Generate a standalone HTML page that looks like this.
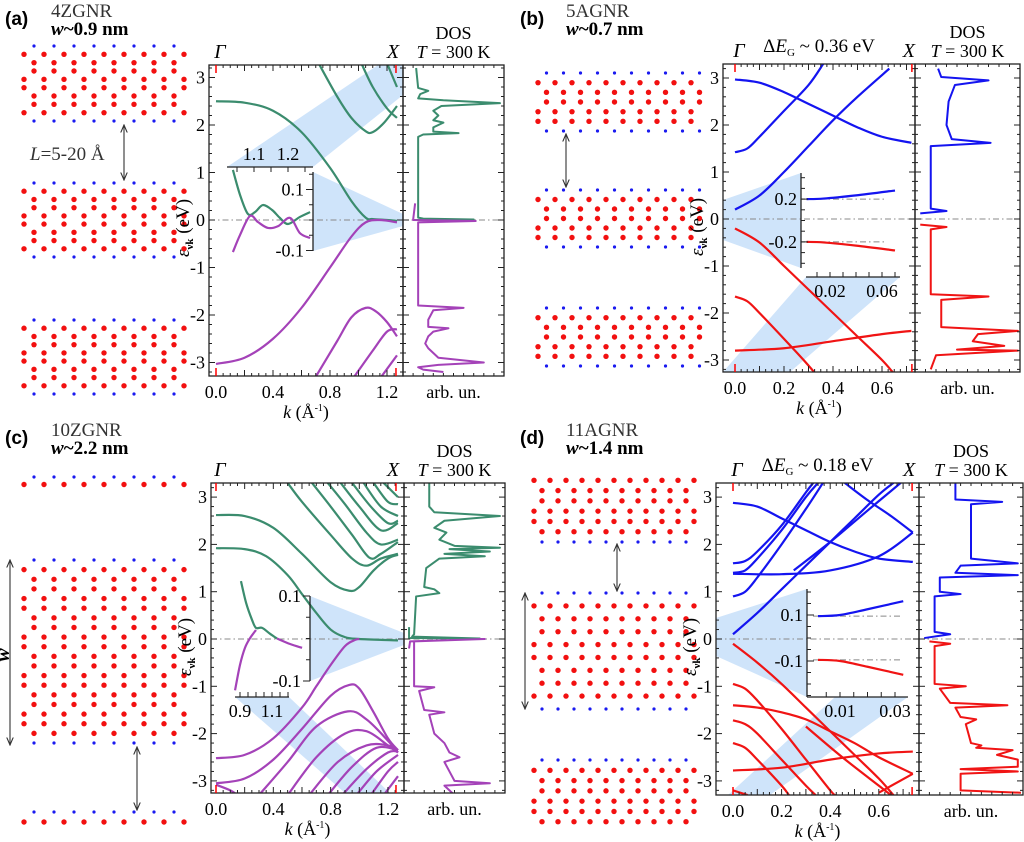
<!DOCTYPE html>
<html><head><meta charset="utf-8">
<style>
html,body{margin:0;padding:0;background:#fff;}
svg{display:block;font-family:"Liberation Serif",serif;}
.sans{font-family:"Liberation Sans",sans-serif;}
</style></head>
<body>
<svg id="fig" width="1024" height="842" viewBox="0 0 1024 842" xmlns="http://www.w3.org/2000/svg">
<defs>
<marker id="ah" markerWidth="8" markerHeight="8" refX="7" refY="4" orient="auto-start-reverse"><path d="M0,1 L7,4 L0,7" fill="none" stroke="#333" stroke-width="1"/></marker>
</defs>
</svg>
<script>
// ===== Panel (a) 4ZGNR data =====
const aCond = [
 [[0,2.5],[0.2,2.47],[0.4,2.3],[0.6,1.85],[0.8,1.1],[0.95,0.4],[1.05,0.05],[1.1,0.02],[1.2,0.0],[1.27,-0.02]],
 [[0.72,3.3],[0.85,2.6],[0.95,2.15],[1.05,1.87],[1.1,1.85],[1.18,2.05],[1.27,2.4]],
 [[1.02,3.3],[1.1,2.8],[1.2,2.35],[1.27,2.15]],
 [[1.2,3.3],[1.27,2.8]]
];
const aVal = [
 [[0,-3.03],[0.2,-2.9],[0.4,-2.5],[0.6,-1.85],[0.8,-1.0],[0.95,-0.35],[1.05,-0.05],[1.15,0.0],[1.27,-0.05]],
 [[0.7,-3.3],[0.85,-2.55],[0.95,-2.05],[1.05,-1.85],[1.12,-1.92],[1.2,-2.15],[1.27,-2.45]],
 [[0.97,-3.3],[1.1,-2.75],[1.2,-2.35],[1.27,-2.3]],
 [[1.16,-3.3],[1.27,-2.85]]
];
const aDosC = [[0.0,0.1],[0.01,0.7],[0.03,0.2],[0.05,0.15],[1.75,0.15],[1.8,0.2],[1.83,0.55],[1.86,0.3],[1.95,0.3],[2.05,0.4],[2.1,0.3],[2.2,0.35],[2.3,0.3],[2.4,0.38],[2.46,0.96],[2.52,0.4],[2.56,0.15],[2.65,0.17],[2.72,0.25],[2.78,0.15],[3.2,0.13]];
const aDosV = [[0.35,0.12],[0.0,0.1],[-0.02,0.72],[-0.05,0.15],[-1.8,0.15],[-1.85,0.6],[-1.9,0.3],[-2.1,0.25],[-2.25,0.25],[-2.28,0.45],[-2.35,0.3],[-2.45,0.25],[-2.6,0.22],[-2.7,0.25],[-2.9,0.35],[-3.0,0.8],[-3.05,0.35],[-3.1,0.15],[-3.15,0.2],[-3.2,0.4]];
const aInsetC = [[[1.038,0.164],[1.059,0.082],[1.082,0.02],[1.103,0.026],[1.126,0.049],[1.153,0.033],[1.176,0.007],[1.2,-0.013],[1.235,0.01],[1.265,0.026]]];
const aInsetV = [[[1.038,-0.105],[1.059,-0.049],[1.088,0.013],[1.112,-0.007],[1.141,-0.026],[1.171,-0.02],[1.206,0.007],[1.235,-0.043],[1.265,-0.059]]];
const aKTicks = [0.0,0.4,0.8,1.2];
const aInsetKTicks = [1.1,1.2];
const aInsetETicks = [0.1,-0.1];

// ===== Panel (b) 5AGNR data =====
const bCond = [
 [[0,0.2],[0.1,0.5],[0.2,1.0],[0.3,1.55],[0.4,2.1],[0.5,2.6],[0.63,3.2]],
 [[0,1.42],[0.05,1.5],[0.1,1.75],[0.2,2.3],[0.3,2.85],[0.36,3.3]],
 [[0,2.97],[0.1,2.9],[0.2,2.7],[0.3,2.45],[0.4,2.2],[0.5,1.95],[0.6,1.75],[0.72,1.62]]
];
const bVal = [
 [[0,-0.2],[0.1,-0.5],[0.2,-1.0],[0.3,-1.5],[0.4,-2.0],[0.5,-2.5],[0.6,-3.0],[0.65,-3.3]],
 [[0,-1.65],[0.05,-1.75],[0.1,-2.0],[0.2,-2.55],[0.28,-3.0],[0.33,-3.3]],
 [[0,-2.8],[0.2,-2.75],[0.4,-2.6],[0.6,-2.45],[0.72,-2.38]]
];
const bDosC = [[0.12,0.05],[0.17,0.3],[0.22,0.15],[1.55,0.15],[1.62,0.72],[1.7,0.35],[2.0,0.3],[2.5,0.32],[2.85,0.38],[2.95,0.7],[3.02,0.25],[3.2,0.22]];
const bDosV = [[-0.12,0.05],[-0.17,0.3],[-0.22,0.15],[-1.6,0.15],[-1.65,0.7],[-1.72,0.25],[-2.3,0.25],[-2.38,0.98],[-2.45,0.6],[-2.6,0.55],[-2.7,0.85],[-2.78,0.4],[-2.8,0.98],[-2.9,0.2],[-3.2,0.15]];
const bInsetC = [[[0.002,0.2],[0.015,0.205],[0.04,0.235],[0.07,0.28]]];
const bInsetV = [[[0.002,-0.2],[0.015,-0.205],[0.04,-0.235],[0.07,-0.28]]];
const bKTicks = [0.0,0.2,0.4,0.6];
const bInsetKTicks = [0.02,0.06];
const bInsetETicks = [0.2,-0.2];

// ===== Panel (c) 10ZGNR data =====
const cCond = [
 [[0,1.92],[0.2,1.9],[0.35,1.75],[0.5,1.35],[0.6,0.95],[0.7,0.55],[0.8,0.2],[0.9,0.04],[1.0,0.0],[1.27,-0.03]],
 [[0,2.62],[0.2,2.6],[0.4,2.35],[0.6,1.8],[0.8,1.2],[0.93,1.02],[1.0,1.1],[1.1,1.45],[1.2,1.7],[1.27,1.78]],
 [[0.5,3.3],[0.6,2.9],[0.8,2.2],[0.95,1.7],[1.05,1.55],[1.15,1.7],[1.27,1.8]],
 [[0.67,3.3],[0.8,2.8],[0.95,2.2],[1.07,1.72],[1.15,1.8],[1.27,2.05]],
 [[0.78,3.3],[0.9,2.85],[1.05,2.25],[1.15,2.0],[1.27,2.1]],
 [[0.87,3.3],[1.0,2.8],[1.15,2.3],[1.27,2.45]],
 [[0.95,3.3],[1.08,2.8],[1.2,2.45],[1.27,2.5]],
 [[1.03,3.3],[1.15,2.8],[1.27,2.6]],
 [[1.1,3.3],[1.2,2.9],[1.27,2.85]],
 [[1.17,3.3],[1.27,3.0]]
];
const cVal = [
 [[0,-2.52],[0.2,-2.45],[0.4,-2.1],[0.6,-1.45],[0.7,-1.0],[0.8,-0.55],[0.9,-0.15],[0.97,-0.02],[1.0,0.0]],
 [[0,-3.05],[0.2,-2.95],[0.4,-2.55],[0.6,-1.9],[0.8,-1.2],[0.93,-0.97],[1.0,-1.05],[1.1,-1.55],[1.2,-2.1],[1.27,-2.35]],
 [[0.3,-3.3],[0.5,-2.6],[0.7,-1.85],[0.92,-1.53],[1.05,-1.7],[1.2,-2.15],[1.27,-2.4]],
 [[0.5,-3.3],[0.7,-2.5],[0.9,-2.0],[1.05,-1.95],[1.2,-2.25],[1.27,-2.4]],
 [[0.65,-3.3],[0.85,-2.6],[1.05,-2.25],[1.2,-2.25],[1.27,-2.35]],
 [[0.78,-3.3],[0.95,-2.7],[1.12,-2.3],[1.27,-2.35]],
 [[0.88,-3.3],[1.05,-2.75],[1.2,-2.4],[1.27,-2.38]],
 [[0.98,-3.3],[1.12,-2.8],[1.27,-2.45]],
 [[1.08,-3.3],[1.2,-2.8],[1.27,-2.6]],
 [[1.17,-3.3],[1.27,-2.9]],
 [[0,-3.08],[0.1,-3.2],[0.15,-3.3]]
];
const cDosC = [[0.25,0.05],[0.02,0.05],[0.01,0.75],[0.05,0.08],[0.1,0.1],[0.9,0.12],[0.97,0.35],[1.05,0.3],[1.1,0.2],[1.5,0.22],[1.7,0.35],[1.75,0.8],[1.8,0.4],[1.85,0.85],[1.9,0.45],[1.93,0.95],[1.97,0.5],[2.1,0.35],[2.25,0.42],[2.35,0.3],[2.5,0.4],[2.6,0.95],[2.68,0.3],[2.8,0.25],[3.0,0.25],[3.3,0.25]];
const cDosV = [[-0.2,0.05],[-0.05,0.06],[0.0,0.8],[-0.05,0.1],[-1.0,0.1],[-1.02,0.3],[-1.1,0.15],[-1.5,0.2],[-1.55,0.4],[-1.6,0.25],[-2.0,0.3],[-2.2,0.4],[-2.4,0.45],[-2.5,0.55],[-2.6,0.4],[-2.8,0.45],[-3.0,0.5],[-3.05,0.85],[-3.1,0.4],[-3.3,0.5]];
const cInsetC = [[[0.906,0.135],[0.938,0.084],[0.975,0.044],[1.0,0.025],[1.038,0.025],[1.088,0.011],[1.131,0.0]]];
const cInsetV = [[[0.869,-0.122],[0.9,-0.062],[0.931,-0.022],[0.963,0.001],[1.0,0.02]],[[1.131,0.0],[1.213,-0.013],[1.288,-0.022]]];
const cKTicks = [0.0,0.4,0.8,1.2];
const cInsetKTicks = [0.9,1.1];
const cInsetETicks = [0.1,-0.1];

// ===== Panel (d) 11AGNR data =====
const dCond = [
 [[0,0.1],[0.1,0.55],[0.2,1.05],[0.3,1.55],[0.4,2.05],[0.5,2.55],[0.6,3.05],[0.66,3.3]],
 [[0,0.9],[0.05,1.0],[0.1,1.3],[0.2,2.0],[0.3,2.75],[0.37,3.3]],
 [[0,1.6],[0.05,1.65],[0.1,1.85],[0.2,2.4],[0.3,3.1],[0.33,3.3]],
 [[0,1.4],[0.05,1.45],[0.1,1.7],[0.2,2.3],[0.3,3.0],[0.35,3.3]],
 [[0,1.38],[0.2,1.37],[0.4,1.45],[0.6,1.75],[0.74,2.25]],
 [[0,2.88],[0.1,2.8],[0.2,2.55],[0.3,2.3],[0.4,2.05],[0.5,1.85],[0.6,1.7],[0.74,1.63]],
 [[0.46,3.3],[0.55,2.95],[0.65,2.6],[0.74,2.25]],
 [[0.25,1.45],[0.4,2.05],[0.55,2.7],[0.69,3.3]]
];
const dVal = [
 [[0,-0.1],[0.1,-0.5],[0.2,-0.95],[0.3,-1.45],[0.4,-1.95],[0.5,-2.45],[0.6,-2.95],[0.66,-3.3]],
 [[0,-0.95],[0.05,-1.05],[0.1,-1.3],[0.2,-1.9],[0.3,-2.55],[0.4,-3.2],[0.42,-3.3]],
 [[0,-1.4],[0.1,-1.45],[0.2,-1.55],[0.3,-1.7],[0.4,-1.95],[0.5,-2.2],[0.6,-2.5],[0.74,-2.85]],
 [[0,-1.72],[0.05,-1.8],[0.1,-2.0],[0.2,-2.55],[0.3,-3.1],[0.34,-3.3]],
 [[0,-2.2],[0.05,-2.3],[0.1,-2.55],[0.2,-3.1],[0.23,-3.3]],
 [[0,-2.78],[0.2,-2.72],[0.4,-2.55],[0.6,-2.42],[0.74,-2.38]],
 [[0.3,-1.85],[0.45,-2.5],[0.6,-3.1],[0.65,-3.3]],
 [[0.6,-3.25],[0.74,-2.85]],
 [[0,-3.2],[0.06,-3.3]]
];
const dDosC = [[0.02,0.05],[0.1,0.3],[0.15,0.15],[0.9,0.15],[0.95,0.4],[1.0,0.2],[1.3,0.2],[1.35,0.95],[1.4,0.35],[1.55,0.4],[1.6,0.95],[1.7,0.5],[2.0,0.5],[2.2,0.5],[2.6,0.5],[2.85,0.5],[2.9,0.8],[2.95,0.35],[3.3,0.35]];
const dDosV = [[-0.05,0.1],[-0.1,0.3],[-0.15,0.15],[-0.95,0.15],[-1.0,0.45],[-1.05,0.2],[-1.35,0.3],[-1.4,0.85],[-1.45,0.35],[-1.65,0.4],[-1.7,0.55],[-1.8,0.45],[-2.2,0.5],[-2.25,0.6],[-2.3,0.55],[-2.35,0.9],[-2.45,0.75],[-2.55,0.95],[-2.7,0.95],[-2.75,0.4],[-2.8,0.95],[-2.85,0.4],[-3.2,0.4],[-3.25,0.98]];
const dInsetC = [[[0.002,0.095],[0.01,0.1],[0.02,0.125],[0.033,0.16]]];
const dInsetV = [[[0.002,-0.095],[0.01,-0.1],[0.02,-0.125],[0.033,-0.16]]];
const dKTicks = [0.0,0.2,0.4,0.6];
const dInsetKTicks = [0.01,0.03];
const dInsetETicks = [0.1,-0.1];

const yTicks = [-3,-2,-1,0,1,2,3];

const NS='http://www.w3.org/2000/svg';
const svg=document.getElementById('fig');
function mk(tag, attrs, parent){const e=document.createElementNS(NS,tag);for(const k in attrs)e.setAttribute(k,attrs[k]);(parent||svg).appendChild(e);return e;}
function txt(x,y,s,size,extra,parent){const t=mk('text',Object.assign({x:x,y:y,'font-size':size},extra||{}),parent);t.textContent=s;return t;}
function smooth(pts){
  if(pts.length<3) return 'M'+pts.map(p=>p[0]+','+p[1]).join(' L');
  let d='M'+pts[0][0]+','+pts[0][1];
  for(let i=0;i<pts.length-1;i++){
    const p0=pts[Math.max(0,i-1)],p1=pts[i],p2=pts[i+1],p3=pts[Math.min(pts.length-1,i+2)];
    const c1=[p1[0]+(p2[0]-p0[0])/6,p1[1]+(p2[1]-p0[1])/6];
    const c2=[p2[0]-(p3[0]-p1[0])/6,p2[1]-(p3[1]-p1[1])/6];
    d+=' C'+c1[0]+','+c1[1]+' '+c2[0]+','+c2[1]+' '+p2[0]+','+p2[1];
  }
  return d;
}

const GREEN='#3b8c6e', PURPLE='#a442b8', BLUE='#1414f0', RED='#f01414', SHADE='#cfe4fa';

function drawPanel(P){
  const g=mk('g',{});
  
  
  const sx=k=>P.x0+k*P.ks, sy=E=>P.y0-E*P.es;
  const dx=d=>P.r+d*(P.dosR-P.r);
  P.shade.forEach(pts=>{const s=mk('polygon',{points:pts,fill:SHADE},g);
    
    });
  const cp=mk('clipPath',{id:'clip'+P.id},g);
  mk('rect',{x:P.l,y:P.t,width:P.r-P.l,height:P.b-P.t},cp);
  const cpd=mk('clipPath',{id:'clipd'+P.id},g);
  mk('rect',{x:P.r,y:P.t,width:P.dosR-P.r,height:P.b-P.t},cpd);
  const zl=mk('line',{x1:P.l,x2:P.dosR,y1:sy(0),y2:sy(0),stroke:'#888','stroke-width':1,'stroke-dasharray':'6 3 1.5 3'},g);
  
  
  const bg=mk('g',{'clip-path':'url(#clip'+P.id+')'},g);
  [[P.cond,P.cc],[P.val,P.vc]].forEach(([set,col],si)=>{
    set.forEach((b,i)=>{const p=mk('path',{d:smooth(b.map(q=>[sx(q[0]),sy(q[1])])),fill:'none',stroke:col,'stroke-width':2.2,'stroke-linejoin':'round'},bg);
      
      });
  });
  const dg=mk('g',{'clip-path':'url(#clipd'+P.id+')'},g);
  [[P.dosC,P.cc,'dos-conduction'],[P.dosV,P.vc,'dos-valence']].forEach(([arr,col,nm])=>{
    const p=mk('polyline',{points:arr.map(q=>dx(q[1])+','+sy(q[0])).join(' '),fill:'none',stroke:col,'stroke-width':2,'stroke-linejoin':'round'},dg);
    
    
  });
  const fr=mk('rect',{x:P.l,y:P.t,width:P.r-P.l,height:P.b-P.t,fill:'none',stroke:'#222','stroke-width':1.3},g);
  
  
  const fd=mk('rect',{x:P.r,y:P.t,width:P.dosR-P.r,height:P.b-P.t,fill:'none',stroke:'#222','stroke-width':1.3},g);
  
  
  for(let E=-3.2;E<=3.21;E+=0.2){const y=sy(E);const maj=Math.abs(E-Math.round(E))<0.01;const L=maj?6:3;
    [[P.l,1],[P.r,-1],[P.r,1],[P.dosR,-1]].forEach(([x,d])=>mk('line',{x1:x,x2:x+d*L,y1:y,y2:y,stroke:'#222','stroke-width':1},g));}
  yTicks.forEach(v=>{const t=txt(P.l-4,sy(v)+6,String(v),18,{'text-anchor':'end'},g);
    
    });
  const step=P.kTicks[1]-P.kTicks[0];
  for(let k=0;k<=P.kX+1e-6;k+=step/8){const x=sx(k);const maj=Math.abs(k/(step/2)-Math.round(k/(step/2)))<0.01;const L=maj?6:3;
    mk('line',{x1:x,x2:x,y1:P.b,y2:P.b-L,stroke:'#222','stroke-width':1},g);
    mk('line',{x1:x,x2:x,y1:P.t,y2:P.t+L,stroke:'#222','stroke-width':1},g);}
  for(let d=0.1;d<1;d+=0.1){const x=dx(d);mk('line',{x1:x,x2:x,y1:P.b,y2:P.b-3,stroke:'#222'},g);mk('line',{x1:x,x2:x,y1:P.t,y2:P.t+3,stroke:'#222'},g);}
  P.kTicks.forEach(v=>{const t=txt(sx(v),P.b+22,v.toFixed(1),18,{'text-anchor':'middle'},g);
    
    });
  [0,P.kX].forEach(k=>{mk('line',{x1:sx(k),x2:sx(k),y1:P.t,y2:P.t+8,stroke:'#f00','stroke-width':1.5},g);
    mk('line',{x1:sx(k),x2:sx(k),y1:P.b,y2:P.b-8,stroke:'#f00','stroke-width':1.5},g);});
  const gl=txt(sx(0)+4,P.t-7,'Γ',20,{'font-style':'italic','text-anchor':'middle'},g);
  
  
  const xl=txt(sx(P.kX)-3,P.t-7,'X',20,{'font-style':'italic','text-anchor':'middle'},g);
  
  
  const dm=(P.r+P.dosR)/2;
  const dl=txt(dm,P.t-26,'DOS',18,{'text-anchor':'middle'},g);
  
  
  const tl=txt(dm,P.t-7,'',18,{'text-anchor':'middle'},g);
  tl.innerHTML='<tspan font-style="italic">T</tspan> = 300 K';
  
  
  const al=txt(dm,P.b+22,'arb. un.',18,{'text-anchor':'middle'},g);
  
  
  const kl=txt((P.l+P.r)/2,P.b+42,'',18,{'text-anchor':'middle'},g);
  kl.innerHTML='<tspan font-style="italic">k</tspan> (Å<tspan font-size="10" dy="-7">-1</tspan><tspan dy="7">)</tspan>';
  
  
  const yl=txt(0,0,'',19,{'text-anchor':'middle',transform:'translate('+(P.l-20)+','+(sy(0)+8)+') rotate(-90)'},g);
  yl.innerHTML='<tspan font-style="italic">ε</tspan><tspan font-size="11" dy="4" font-weight="bold">νk</tspan><tspan dy="-4"> (eV)</tspan>';
  
  
  if(P.gap){const gt=txt((P.l+P.r)/2,P.t-12,'',19,{'text-anchor':'middle'},g);
    gt.innerHTML='Δ<tspan font-style="italic">E</tspan><tspan font-size="11" dy="4">G</tspan><tspan dy="-4"> ~ '+P.gap+' eV</tspan>';
    
    }
  // inset
  const I=P.inset;
  const ix=k=>I.x0+(k-I.k0)*I.ks, iy=E=>I.y0-E*I.es;
  const ig=mk('g',{},g);
  
  
  I.dash.forEach(E=>mk('line',{x1:I.dashX[0],x2:I.dashX[1],y1:iy(E),y2:iy(E),stroke:'#888','stroke-dasharray':'6 3 1.5 3'},ig));
  [[I.c,P.cc],[I.v,P.vc]].forEach(([set,col])=>set.forEach(b=>{const p=mk('path',{d:smooth(b.map(q=>[ix(q[0]),iy(q[1])])),fill:'none',stroke:col,'stroke-width':2.2},ig);
    
    }));
  const ax=I.axX, ay=I.axY;
  mk('line',{x1:ax[1],x2:ax[2],y1:ax[0],y2:ax[0],stroke:'#222','stroke-width':1.3},ig);
  mk('line',{x1:ay[0],x2:ay[0],y1:ay[1],y2:ay[2],stroke:'#222','stroke-width':1.3},ig);
  const kd=ax[3];
  for(let k=I.kTickStart;ix(k)<=ax[2]+0.5;k+=I.kMinor){const x=ix(k);if(x<ax[1]-0.5)continue;mk('line',{x1:x,x2:x,y1:ax[0],y2:ax[0]-kd*5,stroke:'#222'},ig);}
  I.kt.forEach(v=>txt(ix(v),ax[0]+(kd>0?20:-7),String(v),18,{'text-anchor':'middle'},ig));
  const td=ay[3]; // tick direction +1 right, -1 left
  for(let E=I.eMinor*Math.ceil((I.y0-ay[2])/I.es/I.eMinor);iy(E)>=ay[1]-0.5;E+=I.eMinor){mk('line',{x1:ay[0],x2:ay[0]+td*4,y1:iy(E),y2:iy(E),stroke:'#222'},ig);}
  I.et.forEach(v=>{mk('line',{x1:ay[0],x2:ay[0]+td*7,y1:iy(v),y2:iy(v),stroke:'#222'},ig);
    txt(ay[0]-(td<0?9:4),iy(v)+6,String(v),18,{'text-anchor':'end'},ig);});
}

function ribbon(x0,x1,yTop,yBot,nRed,sp,topBlue,botBlue,name){
  const g=mk('g',{});
  
  
  if(topBlue) for(let x=x0+sp/2;x<=x1;x+=sp) mk('circle',{cx:x,cy:yTop,r:1.6,fill:topBlue},g);
  if(botBlue) for(let x=x0+sp/2;x<=x1;x+=sp) mk('circle',{cx:x,cy:yBot,r:1.6,fill:botBlue},g);
  for(let i=0;i<nRed;i++){const y=yTop+(i+1)*(yBot-yTop)/(nRed+1);const off=(Math.floor((i+1)/2)%2)*sp/2;
    for(let x=x0+off;x<=x1;x+=sp) mk('circle',{cx:x,cy:y,r:2.7,fill:'#f21010'},g);}
}
function arrow(x1,y1,x2,y2,name){const a=mk('line',{x1:x1,y1:y1,x2:x2,y2:y2,stroke:'#333','stroke-width':1.1,'marker-start':'url(#ah)','marker-end':'url(#ah)'});
  
  }

ribbon(24,184,46,121,8,20,'#1a1af0','#1a1af0','ribbon-top');
ribbon(24,184,183,257,8,20,'#1a1af0','#1a1af0','ribbon-middle');
ribbon(24,184,320,394,8,20,'#1a1af0','#1a1af0','ribbon-bottom');
arrow(124,125,124,180,'separation-arrow');
ribbon(538,700,73,131,5,17,'#1a1af0','#1a1af0','ribbon-top');
ribbon(538,700,190,247,5,17,'#1a1af0','#1a1af0','ribbon-middle');
ribbon(538,700,308,366,5,17,'#1a1af0','#1a1af0','ribbon-bottom');
arrow(566,134,566,187,'separation-arrow');
ribbon(24,184,477,492,1,20,'#1a1af0',null,'ribbon-top');
ribbon(24,184,560,743,18,20,'#1a1af0','#1a1af0','ribbon-middle');
ribbon(24,184,812,832,1,20,'#1a1af0',null,'ribbon-bottom');
arrow(10,560,10,745,'width-arrow');
arrow(137,747,137,810,'separation-arrow');
ribbon(534,700,470,542,6,16,null,'#1a1af0','ribbon-top');
ribbon(534,700,593,709,8,16,'#1a1af0','#1a1af0','ribbon-middle');
ribbon(534,700,760,832,6,16,'#1a1af0',null,'ribbon-bottom');
arrow(525,593,525,709,'width-arrow');
arrow(617,544,617,591,'separation-arrow');

drawPanel({id:'a',x0:216,ks:142.5,y0:220,es:47.5,l:209,r:403,t:65,b:376,dosR:504,kX:1.263,kTicks:aKTicks,
  cond:aCond,val:aVal,cc:GREEN,vc:PURPLE,dosC:aDosC,dosV:aDosV,
  shade:['227,167 378,65 403,65 403,95 313,167','313,172 403,214 403,226 313,251'],
  inset:{x0:220,k0:1.0,ks:340,y0:220,es:305,dash:[],dashX:[0,0],c:aInsetC,v:aInsetV,
    axX:[167,227,313,-1],axY:[313,172,251,-1],kt:aInsetKTicks,et:aInsetETicks,kTickStart:1.05,kMinor:0.05,eMinor:0.05}});
drawPanel({id:'b',x0:735,ks:245,y0:219,es:47,l:723,r:915,t:64,b:372,dosR:1020,kX:0.722,kTicks:bKTicks,gap:'0.36',
  cond:bCond,val:bVal,cc:BLUE,vc:RED,dosC:bDosC,dosV:bDosV,
  shade:['723,200 801,173 801,268 723,240','806,277 900,277 790,372 723,372'],
  inset:{x0:804,k0:0,ks:1300,y0:220.5,es:107,dash:[0.2,-0.2],dashX:[806,886],c:bInsetC,v:bInsetV,
    axX:[277,806,900,1],axY:[801,173,268,1],kt:bInsetKTicks,et:bInsetETicks,kTickStart:0.01,kMinor:0.01,eMinor:0.1}});
drawPanel({id:'c',x0:216,ks:143.3,y0:639,es:47.3,l:211,r:404,t:483,b:793,dosR:505,kX:1.256,kTicks:cKTicks,
  cond:cCond,val:cVal,cc:GREEN,vc:PURPLE,dosC:cDosC,dosV:cDosV,
  shade:['310,596 404,633 404,645 310,681','235,697 289,697 390,793 345,793'],
  inset:{x0:240,k0:0.9,ks:160,y0:638.5,es:425,dash:[],dashX:[0,0],c:cInsetC,v:cInsetV,
    axX:[697,235,289,1],axY:[310,596,681,-1],kt:cInsetKTicks,et:cInsetETicks,kTickStart:0.9,kMinor:0.05,eMinor:0.05}});
drawPanel({id:'d',x0:733,ks:243,y0:639,es:47.3,l:716,r:919,t:483,b:795,dosR:1023,kX:0.737,kTicks:dKTicks,gap:'0.18',
  cond:dCond,val:dVal,cc:BLUE,vc:RED,dosC:dDosC,dosV:dDosV,
  shade:['716,618 807,589 807,697 716,656','835,697 908,697 770,795 728,795'],
  inset:{x0:812.5,k0:0,ks:2750,y0:638,es:230,dash:[0.095,-0.095],dashX:[813,900],c:dInsetC,v:dInsetV,
    axX:[697,807,908,1],axY:[807,589,697,1],kt:dInsetKTicks,et:dInsetETicks,kTickStart:0.005,kMinor:0.005,eMinor:0.05}});

function title(x,y,letter,name,w){
  const a=txt(x,y,letter,19,{'font-weight':'bold','class':'sans'});
  
  
  const n=txt(x+46,y-8,name,19,{fill:'#333'});
  
  
  const ww=txt(x+46,y+10,'',19,{'font-weight':'bold'});
  ww.innerHTML='<tspan font-style="italic">w</tspan>~'+w+' nm';
  
  
}
title(5,25,'(a)','4ZGNR','0.9');
title(520,25,'(b)','5AGNR','0.7');
title(5,444,'(c)','10ZGNR','2.2');
title(520,444,'(d)','11AGNR','1.4');
const lt=txt(30,160,'',19,{fill:'#333'});
lt.innerHTML='<tspan font-style="italic">L</tspan>=5-20 Å';


const wt=txt(0,0,'w',20,{'font-weight':'bold','font-style':'italic','transform':'translate(9,655) rotate(-90)','text-anchor':'middle'});


</script>
</body></html>
